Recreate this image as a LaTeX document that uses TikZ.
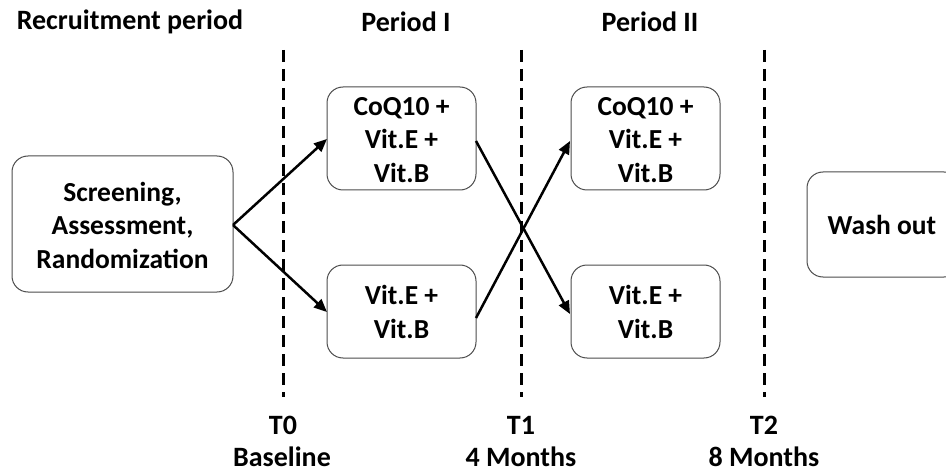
\documentclass[tikz,border=0pt]{standalone}
\usepackage{fontspec}
\setmainfont{Carlito}
\usetikzlibrary{arrows.meta}
\begin{document}
\begin{tikzpicture}[x=1pt,y=-1pt,
  box/.style={draw=black!70,line width=1pt,rounded corners=16pt,fill=white},
  txt/.style={font=\bfseries\fontsize{27.5}{33.5}\selectfont,align=center,inner sep=0pt},
  lbl/.style={font=\bfseries\fontsize{28}{30}\selectfont,inner sep=0pt},
  arr/.style={-{Triangle[length=13pt,width=11pt]},line width=2.5pt},
  divider/.style={line width=3pt,dash pattern=on 12pt off 7pt}]
\useasboundingbox (0,0) rectangle (946,476);
% dashed dividers
\coordinate (d0t) at (283,50); \coordinate (d0b) at (283,397);
\coordinate (d1t) at (521,50); \coordinate (d1b) at (521,397);
\coordinate (d2t) at (764,50); \coordinate (d2b) at (764,397);
\draw[divider] (d0t) -- (d0b);
\draw[divider] (d1t) -- (d1b);
\draw[divider] (d2t) -- (d2b);
% boxes
\draw[box] (12,156) rectangle (233,292);
\node[txt] (scr) at (122.5,225) {Screening,\\Assessment,\\Randomization};
\coordinate (scrR) at (233,225);
\draw[box] (327,87) rectangle (476,190);
\node[txt] (a1) at (401.5,140) {CoQ10 +\\Vit.E +\\Vit.B};
\coordinate (a1L) at (327,139); \coordinate (a1R) at (476,141);
\draw[box] (327,265) rectangle (476,358);
\node[txt] (b1) at (401.5,312) {Vit.E +\\Vit.B};
\coordinate (b1L) at (327,312); \coordinate (b1R) at (476,318);
\draw[box] (571,87) rectangle (720,190);
\node[txt] (a2) at (645.5,140) {CoQ10 +\\Vit.E +\\Vit.B};
\coordinate (a2L) at (570,141);
\draw[box] (571,265) rectangle (720,358);
\node[txt] (b2) at (645.5,312) {Vit.E +\\Vit.B};
\coordinate (b2L) at (570,314);
\begin{scope}
\clip (0,0) rectangle (946,476);
\draw[box] (807,172) rectangle (960,277);
\end{scope}
\node[txt] (wo) at (882,225) {Wash out};
% arrows
\draw[arr] (scrR) -- (a1L);
\draw[arr] (scrR) -- (b1L);
\draw[arr] (a1R) -- (b2L);
\draw[arr] (b1R) -- (a2L);
% labels
\node[lbl] (rp) at (130,22) {Recruitment period};
\node[lbl] (p1) at (406,22) {Period I};
\node[lbl] (p2) at (650,22) {Period II};
\node[lbl] (t0) at (283,425) {T0};
\node[lbl] (bl) at (282,457) {Baseline};
\node[lbl] (t1) at (521,425) {T1};
\node[lbl] (m4) at (521,457) {4 Months};
\node[lbl] (t2) at (764,425) {T2};
\node[lbl] (m8) at (764,457) {8 Months};
\end{tikzpicture}
\end{document}
